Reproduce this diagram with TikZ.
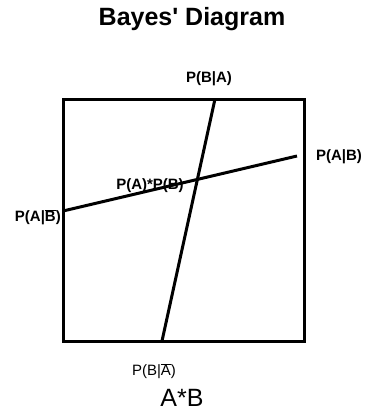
\documentclass[tikz,border=0pt]{standalone}
\usepackage{fontspec}
\setmainfont{Liberation Sans}
\newcommand{\barred}[1]{$\overline{\mbox{#1}}$}
\begin{document}
\begin{tikzpicture}[x=1pt, y=-1pt,
  lbl/.style={inner sep=0pt, font=\bfseries\fontsize{15}{15}\selectfont},
  heavy/.style={line width=3pt}]
\useasboundingbox (0,0) rectangle (391,415);
% title and caption
\node[inner sep=0pt, font=\bfseries\fontsize{25}{25}\selectfont] (title) at (192,19) {Bayes\textquotesingle{} Diagram};
\node[inner sep=0pt, font=\fontsize{25}{25}\selectfont] (caption) at (182,398) {A*B};
% the square
\draw[heavy] (63,99) rectangle (304,341);
\coordinate (top) at (215,99);
\coordinate (bottom) at (162,341);
\coordinate (left) at (63,211);
\coordinate (right) at (297,156);
\draw[heavy] (top) -- (bottom);
\draw[heavy] (left) -- (right);
% labels
\node[lbl] (pba) at (209,79) {P(B|A)};
\node[lbl] (pab) at (339,157) {P(A|B)};
\node[lbl, anchor=east] (pabn) at (61,217) {P(A|\barred{B})};
\node[lbl] (papb) at (150,186) {P(A)*P(B)};
\node[lbl, font=\fontsize{15}{15}\selectfont] (pban) at (154,371) {P(B|\barred{A})};
\end{tikzpicture}
\end{document}
